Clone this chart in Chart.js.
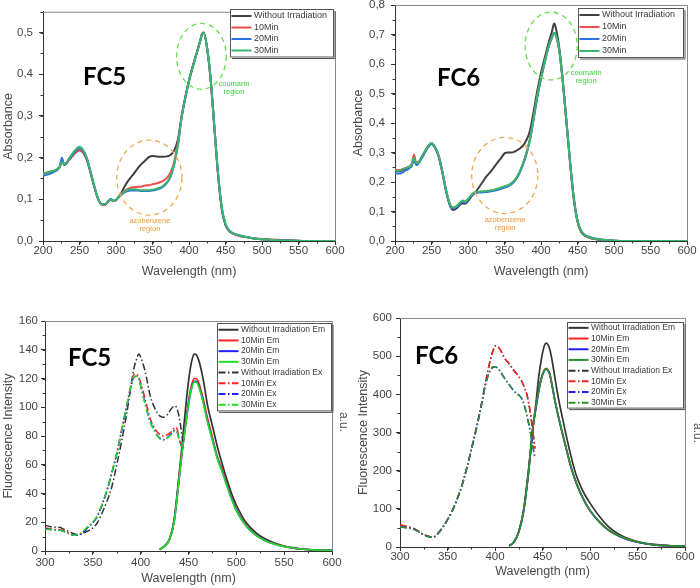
<!DOCTYPE html>
<html>
<head>
<meta charset="utf-8">
<title>FC5 / FC6 absorbance and fluorescence</title>
<script src="https://cdn.jsdelivr.net/npm/chart.js@4.4.1/dist/chart.umd.min.js"></script>
<style>
  html, body { margin: 0; padding: 0; background: #fff; }
  #figure { position: relative; width: 700px; height: 588px; overflow: hidden; }
  #figure canvas { position: absolute; }
</style>
</head>
<body>
<div id="figure">
  <canvas id="absFC5" width="350" height="290" style="left:0;top:0"></canvas>
  <canvas id="absFC6" width="350" height="300" style="left:350px;top:-10px"></canvas>
  <canvas id="flFC5" width="350" height="298" style="left:0;top:290px"></canvas>
  <canvas id="flFC6" width="350" height="298" style="left:350px;top:290px"></canvas>
</div>
<script>
// ---- UV-vis absorbance (top row) ----
const absWavelengths = [200,205,210,215,220,223,226,229,232,236,240,245,250,255,260,265,270,275,280,285,290,293,296,300,305,310,315,320,325,330,335,340,345,350,355,360,365,370,375,380,385,390,395,400,405,410,415,418,420,425,430,435,440,445,450,455,460,470,480,490,500,520,540,560,580,600];
const absLabels = ['Without Irradiation', '10Min', '20Min', '30Min'];

const fc5AbsDark = [0.161,0.163,0.166,0.168,0.172,0.178,0.195,0.183,0.186,0.195,
  0.203,0.213,0.218,0.212,0.195,0.165,0.132,0.103,0.088,0.087,
  0.096,0.099,0.096,0.098,0.108,0.125,0.140,0.152,0.163,0.175,
  0.185,0.193,0.201,0.204,0.203,0.202,0.202,0.203,0.207,0.218,
  0.245,0.300,0.345,0.385,0.418,0.448,0.478,0.497,0.500,0.460,
  0.380,0.265,0.155,0.075,0.038,0.024,0.018,0.012,0.009,0.006,
  0.004,0.002,0.001,0,0,0];
const fc5Abs10 = [0.162,0.164,0.166,0.168,0.172,0.178,0.192,0.183,0.186,0.196,
  0.204,0.214,0.219,0.213,0.196,0.165,0.132,0.103,0.088,0.087,
  0.096,0.099,0.096,0.098,0.110,0.118,0.124,0.128,0.129,0.130,
  0.131,0.133,0.134,0.136,0.138,0.141,0.145,0.152,0.165,0.192,
  0.238,0.300,0.345,0.385,0.418,0.448,0.478,0.497,0.500,0.460,
  0.380,0.266,0.156,0.076,0.039,0.024,0.018,0.012,0.009,0.006,
  0.005,0.003,0.001,0,0,0];
const fc5Abs20 = [0.157,0.159,0.162,0.166,0.171,0.180,0.200,0.182,0.187,0.197,
  0.206,0.217,0.223,0.216,0.197,0.166,0.132,0.103,0.089,0.088,
  0.097,0.101,0.097,0.099,0.108,0.115,0.119,0.121,0.121,0.121,
  0.120,0.120,0.120,0.121,0.123,0.126,0.131,0.140,0.155,0.185,
  0.232,0.297,0.344,0.384,0.417,0.447,0.478,0.497,0.499,0.461,
  0.382,0.268,0.158,0.078,0.040,0.025,0.019,0.013,0.009,0.006,
  0.004,0.002,0.001,0,0,0];
const fc5Abs30 = [0.160,0.163,0.166,0.169,0.173,0.179,0.190,0.184,0.188,0.199,
  0.209,0.220,0.226,0.219,0.200,0.168,0.134,0.104,0.089,0.088,
  0.097,0.100,0.097,0.099,0.109,0.117,0.122,0.124,0.124,0.123,
  0.122,0.122,0.122,0.123,0.125,0.128,0.133,0.142,0.157,0.187,
  0.233,0.298,0.344,0.384,0.417,0.447,0.478,0.497,0.499,0.462,
  0.383,0.270,0.160,0.080,0.041,0.026,0.019,0.013,0.009,0.006,
  0.004,0.002,0.001,0,0,0];

const fc6AbsDark = [0.238,0.236,0.240,0.245,0.250,0.258,0.280,0.262,0.265,0.280,
  0.297,0.318,0.329,0.315,0.285,0.230,0.168,0.122,0.105,0.112,
  0.125,0.128,0.126,0.135,0.152,0.165,0.182,0.200,0.218,0.232,
  0.248,0.265,0.280,0.297,0.300,0.300,0.305,0.312,0.322,0.342,
  0.375,0.440,0.510,0.570,0.620,0.668,0.710,0.737,0.725,0.655,
  0.540,0.400,0.260,0.140,0.065,0.030,0.018,0.008,0.004,0.002,
  0.001,0,0,0,0,0];
const fc6Abs10 = [0.242,0.240,0.243,0.248,0.253,0.262,0.292,0.266,0.268,0.283,
  0.300,0.320,0.331,0.318,0.288,0.235,0.172,0.126,0.112,0.118,
  0.131,0.135,0.132,0.142,0.156,0.165,0.166,0.167,0.168,0.170,
  0.172,0.176,0.180,0.184,0.188,0.196,0.209,0.230,0.260,0.297,
  0.347,0.417,0.492,0.552,0.606,0.655,0.690,0.706,0.700,0.645,
  0.535,0.398,0.262,0.142,0.067,0.032,0.019,0.009,0.005,0.003,
  0.001,0,0,0,0,0];
const fc6Abs20 = [0.230,0.228,0.232,0.240,0.247,0.255,0.275,0.258,0.262,0.278,
  0.296,0.318,0.330,0.316,0.286,0.232,0.170,0.124,0.110,0.116,
  0.129,0.133,0.130,0.140,0.154,0.163,0.164,0.165,0.166,0.168,
  0.170,0.173,0.177,0.181,0.185,0.193,0.206,0.227,0.257,0.294,
  0.344,0.414,0.489,0.550,0.604,0.654,0.690,0.705,0.700,0.647,
  0.538,0.402,0.266,0.146,0.070,0.035,0.021,0.011,0.006,0.003,
  0.001,0,0,0,0,0];
const fc6Abs30 = [0.240,0.238,0.242,0.248,0.252,0.260,0.282,0.264,0.267,0.283,
  0.300,0.321,0.332,0.318,0.288,0.234,0.172,0.127,0.114,0.120,
  0.133,0.137,0.134,0.143,0.157,0.166,0.167,0.168,0.169,0.171,
  0.173,0.177,0.181,0.185,0.189,0.197,0.210,0.231,0.261,0.298,
  0.348,0.418,0.493,0.553,0.606,0.655,0.691,0.706,0.701,0.646,
  0.537,0.400,0.264,0.144,0.068,0.033,0.020,0.010,0.005,0.003,
  0.001,0,0,0,0,0];

// ---- Fluorescence (bottom row) ----
const flLabels = ['Without Irradiation Em', '10Min Em', '20Min Em', '30Min Em',
  'Without Irradiation Ex', '10Min Ex', '20Min Ex', '30Min Ex'];

const fc5ExWavelengths = [300,305,310,315,320,325,330,335,340,345,350,355,360,365,370,375,380,385,390,393,396,398,400,405,410,415,420,424,428,432,436,438,440,442,444];
const fc5ExDark = [18,17,16.5,16.5,15,13.5,12,11.5,12.5,14,16,20,27,35,45,60,76,94,115,127,134,137,135,124,108,99,94,93,95,99,101,99,94,86,76];
const fc5Ex10 = [16,15.5,15,15,14,12.5,11,11,13.5,17,20,25,33,43,55,68,84,100,116,123,123,121,117,105,92,85,81,80,81,83,86,85,79,74,72];
const fc5Ex20 = [15.5,15,14.5,14.5,13.5,12,11,11,13,16.5,19.5,24.5,32.5,42.5,54.5,67.5,83,99,114.5,121,121.5,120,115,102,90,83,78.5,77.5,79,81.5,84,83,78,74,72];
const fc5Ex30 = [15,15,14.5,14.5,13.5,12,11,11.5,14,17,20,25,33,43,55,68,84,100,115,121.5,121.5,120,114.5,101,89.5,82.5,78,77,78.5,81,83.5,83,78,74,72];

const fc5EmWavelengths = [420,425,430,435,440,443,446,450,453,456,458,460,463,466,470,475,480,485,490,495,500,510,520,530,540,550,560,570,580,590,600];
const fc5EmDark = [1,3.5,8,22,52,72,93,118,131,137,136.5,134,127,117,101,87,73,61,50,40,32,20,13,8.5,5.5,3.5,2.2,1.3,0.8,0.5,0.4];
const fc5Em10 = [1,3.5,8,21,50,68,84,104,115,120,120,118,112,104,92,79,66,57,47,37,29,18,11.5,7.5,5,3.2,2,1.2,0.8,0.5,0.4];
const fc5Em20 = [1,3.4,7.8,20.5,49,67,83,102,113,118,118,116,110,102,90,77.5,65,56,46,36.5,28.5,17.7,11.3,7.4,4.9,3.1,2,1.2,0.8,0.5,0.4];
const fc5Em30 = [1,3.4,7.8,20.5,49,67,82.5,101.5,112.5,117.5,117.5,115.5,109.5,101.5,89.5,77,64.5,55.5,45.5,36,28,17.5,11.2,7.3,4.8,3,1.9,1.2,0.8,0.5,0.4];

const fc6ExWavelengths = [300,305,310,315,320,325,330,335,340,345,350,355,360,365,370,375,380,385,390,395,398,400,403,406,410,415,420,425,428,431,434,437,440,442];
const fc6ExDark = [58,55,52,48,40,33,28,26,36,52,72,95,125,160,205,255,308,365,430,490,515,527,525,515,495,480,462,447,435,418,395,355,300,258];
const fc6Ex10 = [58,55,52,48,40,33,28,26,36,52,72,95,125,160,205,255,308,365,430,490,515,527,525,515,495,480,462,447,435,418,395,355,300,258];
const fc6Ex20 = [53,51,49,46,39,32,27,25.5,35,51,71,94,124,159,203,253,305,362,425,462,471,472,468,458,442,425,408,398,390,370,340,305,262,233];
const fc6Ex30 = [52,51,49,46,39,32,27,25.5,35,51,71,94,124,159,203,253,305,362,426,463,472,472,468,459,443,426,409,398,389,369,339,303,260,235];

const fc6EmWavelengths = [415,420,425,430,435,440,443,446,449,452,454,456,458,460,463,466,470,475,480,485,490,495,500,510,520,530,540,550,560,570,580,590,600];
const fc6EmDark = [3,14,40,95,195,315,375,445,495,528,534,529,515,490,445,400,350,292,238,192,160,135,115,80,52,34,22,14,9,6,4,3,2];
const fc6Em10 = [3,13,40,93,190,315,365,410,445,464,468,462,450,425,385,350,308,258,210,172,142,117,96,66,44,30,20,13,8,5,3.5,2.5,2];
const fc6Em20 = [3,13,39,92,188,313,363,408,443,462,466,461,449,424,384,349,307,257,209,171,141,116,95,65,43,29,19,12.5,8,5,3.5,2.5,2];
const fc6Em30 = [3,13,39,92,189,314,364,409,444,463,467,462,450,425,385,350,308,258,210,172,142,117,96,66,44,30,20,13,8,5,3.5,2.5,2];

// tick labels
const absXTicks = [200, 250, 300, 350, 400, 450, 500, 550, 600];
const fc5AbsYTicks = [0, 0.1, 0.2, 0.3, 0.4, 0.5];
const fc6AbsYTicks = [0, 0.1, 0.2, 0.3, 0.4, 0.5, 0.6, 0.7, 0.8];
const flXTicks = [300, 350, 400, 450, 500, 550, 600];
const fc5FlYTicks = [0, 20, 40, 60, 80, 100, 120, 140, 160];
const fc6FlYTicks = [0, 100, 200, 300, 400, 500, 600];

const FONT = '"Liberation Sans", Arial, sans-serif';
const absColors = ['#404040', '#f24c4c', '#2f70e2', '#3bb56c'];
const fc5FlColors = ['#333333', '#ff2020', '#2020ff', '#22dd22'];
const fc6FlColors = ['#333333', '#ff2020', '#2020ff', '#2a962a'];
const exDash = [7, 2.5, 1.5, 2.5];

function pts(xs, ys) {
  return xs.map((x, i) => ({ x: x, y: ys[i] }));
}

function lineSet(label, xs, ys, color, width, dash, order) {
  return {
    label: label,
    data: pts(xs, ys),
    borderColor: color,
    borderWidth: width,
    borderDash: dash || [],
    pointRadius: 0,
    fill: false,
    order: order
  };
}

// draws the Origin-like legend box at a fixed spot inside the plot
const boxLegend = {
  id: 'boxLegend',
  afterDraw(chart, args, o) {
    const ctx = chart.ctx;
    const sets = chart.data.datasets;
    const h = o.pad * 2 + sets.length * o.rowH;
    ctx.save();
    ctx.fillStyle = '#fff';
    ctx.fillRect(o.x, o.y, o.w, h);
    ctx.strokeStyle = '#555';
    ctx.lineWidth = 1;
    ctx.strokeRect(o.x + 0.5, o.y + 0.5, o.w, h);
    ctx.beginPath();
    ctx.moveTo(o.x + o.w + 2, o.y + 2);
    ctx.lineTo(o.x + o.w + 2, o.y + h + 2);
    ctx.lineTo(o.x + 2, o.y + h + 2);
    ctx.stroke();
    ctx.font = o.fontSize + 'px ' + FONT;
    ctx.textBaseline = 'middle';
    sets.forEach((ds, i) => {
      const cy = o.y + o.pad + o.rowH * (i + 0.5) + 0.5;
      ctx.strokeStyle = ds.borderColor;
      ctx.lineWidth = 2;
      ctx.setLineDash(ds.borderDash);
      ctx.beginPath();
      ctx.moveTo(o.x + 1.5, cy);
      ctx.lineTo(o.x + 1.5 + o.lineLen, cy);
      ctx.stroke();
      ctx.setLineDash([]);
      ctx.fillStyle = '#3a3a3a';
      ctx.fillText(ds.label, o.x + o.lineLen + 4, cy);
    });
    ctx.restore();
  }
};

// top/right frame lines and minor ticks
const framePlugin = {
  id: 'frame',
  afterDatasetsDraw(chart, args, o) {
    const { ctx, chartArea: a, scales: { x, y } } = chart;
    ctx.save();
    ctx.strokeStyle = '#8a8a8a';
    ctx.lineWidth = 1;
    ctx.beginPath();
    ctx.moveTo(a.left, a.top + 0.5);
    ctx.lineTo(a.right + 0.5, a.top + 0.5);
    ctx.lineTo(a.right + 0.5, a.bottom);
    ctx.stroke();
    ctx.strokeStyle = '#333';
    ctx.beginPath();
    for (let v = x.min; v <= x.max + 1e-9; v += o.minorX) {
      const px = Math.round(x.getPixelForValue(v)) + 0.5;
      ctx.moveTo(px, a.bottom);
      ctx.lineTo(px, a.bottom + 2.5);
    }
    for (let v = y.min; v <= y.max + 1e-9; v += o.minorY) {
      const py = Math.round(y.getPixelForValue(v)) + 0.5;
      ctx.moveTo(a.left, py);
      ctx.lineTo(a.left - 2.5, py);
    }
    ctx.stroke();
    ctx.restore();
  }
};

// dashed region circles and free texts
const notesPlugin = {
  id: 'notes',
  afterDraw(chart, args, o) {
    const { ctx, scales: { x, y } } = chart;
    ctx.save();
    (o.ellipses || []).forEach(e => {
      const cx = x.getPixelForValue(e.x);
      const cy = y.getPixelForValue(e.y);
      const rx = Math.abs(x.getPixelForValue(e.x + e.rx) - cx);
      const ry = Math.abs(y.getPixelForValue(e.y + e.ry) - cy);
      ctx.strokeStyle = e.color;
      ctx.lineWidth = 1.3;
      ctx.setLineDash([5, 4]);
      ctx.beginPath();
      ctx.ellipse(cx, cy, rx, ry, 0, 0, Math.PI * 2);
      ctx.stroke();
    });
    ctx.setLineDash([]);
    (o.texts || []).forEach(t => {
      let px = t.px, py = t.py;
      if (t.data) {
        px = x.getPixelForValue(t.x);
        py = y.getPixelForValue(t.y);
      }
      ctx.save();
      ctx.font = t.font;
      ctx.fillStyle = t.color;
      ctx.textAlign = t.align || 'left';
      ctx.textBaseline = t.baseline || 'alphabetic';
      ctx.translate(px, py);
      if (t.rotate) ctx.rotate(t.rotate);
      ctx.fillText(t.text, 0, 0);
      ctx.restore();
    });
    ctx.restore();
  }
};

function axis(dir, a) {
  return {
    type: 'linear',
    min: a.min,
    max: a.max,
    afterBuildTicks: s => { s.ticks = a.ticks.map(v => ({ value: v })); },
    afterFit: s => { if (dir === 'x') s.height = a.size; else s.width = a.size; },
    grid: { drawOnChartArea: false, drawTicks: true, tickLength: 4, tickColor: '#333', tickWidth: 1 },
    border: { display: true, color: '#333', width: 1 },
    ticks: {
      padding: a.pad,
      color: '#444',
      autoSkip: false,
      maxRotation: 0,
      font: { family: FONT, size: 11.5, lineHeight: 1 },
      callback: a.fmt
    },
    title: {
      display: true,
      text: a.title,
      color: '#4a4a4a',
      font: { family: FONT, size: 12.5 },
      padding: a.titlePad
    }
  };
}

function makePanel(id, cfg) {
  return new Chart(document.getElementById(id), {
    type: 'line',
    data: { datasets: cfg.datasets },
    options: {
      responsive: false,
      animation: false,
      layout: { padding: cfg.padding },
      elements: { line: { cubicInterpolationMode: 'monotone' } },
      scales: { x: axis('x', cfg.x), y: axis('y', cfg.y) },
      plugins: {
        legend: { display: false },
        tooltip: { enabled: false },
        boxLegend: cfg.legend,
        frame: { minorX: cfg.x.minor, minorY: cfg.y.minor },
        notes: cfg.notes
      }
    },
    plugins: [framePlugin, boxLegend, notesPlugin]
  });
}

const commaFmt = v => v.toFixed(1).replace('.', ',');
const intFmt = v => String(v);
const fcFont = 'bold 24px Lato, "Open Sans", sans-serif';
const noteFont = '7.5px ' + FONT;
const auFont = '12px ' + FONT;

function absSets(series) {
  return series.map((ys, i) => lineSet(absLabels[i], absWavelengths, ys, absColors[i], 2, null, 4 - i));
}

function flSets(em, ex, colors) {
  const sets = em.map((s, i) => lineSet(flLabels[i], s[0], s[1], colors[i], 1.7, null, 8 - i));
  return sets.concat(ex.map((s, i) => lineSet(flLabels[i + 4], s[0], s[1], colors[i], 1.5, exDash, 4 - i)));
}

makePanel('absFC5', {
  datasets: absSets([fc5AbsDark, fc5Abs10, fc5Abs20, fc5Abs30]),
  padding: { left: 0, top: 5, right: 15, bottom: 0 },
  x: { min: 200, max: 600, ticks: absXTicks, minor: 25, size: 49, pad: 0, fmt: intFmt,
       title: 'Wavelength (nm)', titlePad: { top: 0, bottom: 10.5 } },
  y: { min: 0, max: 0.55, ticks: fc5AbsYTicks, minor: 0.05, size: 43, pad: 6, fmt: commaFmt,
       title: 'Absorbance', titlePad: { top: 1, bottom: 0 } },
  legend: { x: 230, y: 9, w: 103, rowH: 11.5, pad: 0.75, fontSize: 9, lineLen: 20 },
  notes: {
    ellipses: [
      { x: 417, y: 0.443, rx: 34, ry: 0.079, color: '#66dd4c' },
      { x: 345.7, y: 0.152, rx: 44.6, ry: 0.09, color: '#f5a852' }
    ],
    texts: [
      { text: 'FC5', px: 83, py: 85, font: fcFont, color: '#000' },
      { text: 'coumarin', data: true, x: 461.5, y: 0.373, align: 'center', font: noteFont, color: '#3ccf3c' },
      { text: 'region', data: true, x: 461.5, y: 0.353, align: 'center', font: noteFont, color: '#3ccf3c' },
      { text: 'azobenzene', data: true, x: 346.4, y: 0.044, align: 'center', font: noteFont, color: '#f29a3a' },
      { text: 'region', data: true, x: 346.4, y: 0.023, align: 'center', font: noteFont, color: '#f29a3a' }
    ]
  }
});

makePanel('absFC6', {
  datasets: absSets([fc6AbsDark, fc6Abs10, fc6Abs20, fc6Abs30]),
  padding: { left: 0, top: 15, right: 13, bottom: 0 },
  x: { min: 200, max: 600, ticks: absXTicks, minor: 25, size: 49, pad: 0, fmt: intFmt,
       title: 'Wavelength (nm)', titlePad: { top: 0, bottom: 10.8 } },
  y: { min: 0, max: 0.8, ticks: fc6AbsYTicks, minor: 0.05, size: 45, pad: 6, fmt: commaFmt,
       title: 'Absorbance', titlePad: { top: 1, bottom: 0 } },
  legend: { x: 228, y: 18, w: 105, rowH: 12, pad: 0.5, fontSize: 9, lineLen: 20 },
  notes: {
    ellipses: [
      { x: 413.9, y: 0.661, rx: 35.7, ry: 0.115, color: '#66dd4c' },
      { x: 350.4, y: 0.222, rx: 45.3, ry: 0.129, color: '#f5a852' }
    ],
    texts: [
      { text: 'FC6', px: 87, py: 96, font: fcFont, color: '#000' },
      { text: 'coumarin', data: true, x: 461.9, y: 0.564, align: 'center', font: noteFont, color: '#3ccf3c' },
      { text: 'region', data: true, x: 461.9, y: 0.534, align: 'center', font: noteFont, color: '#3ccf3c' },
      { text: 'azobenzene', data: true, x: 350.8, y: 0.063, align: 'center', font: noteFont, color: '#f29a3a' },
      { text: 'region', data: true, x: 350.8, y: 0.036, align: 'center', font: noteFont, color: '#f29a3a' }
    ]
  }
});

makePanel('flFC5', {
  datasets: flSets(
    [[fc5EmWavelengths, fc5EmDark], [fc5EmWavelengths, fc5Em10], [fc5EmWavelengths, fc5Em20], [fc5EmWavelengths, fc5Em30]],
    [[fc5ExWavelengths, fc5ExDark], [fc5ExWavelengths, fc5Ex10], [fc5ExWavelengths, fc5Ex20], [fc5ExWavelengths, fc5Ex30]],
    fc5FlColors),
  padding: { left: 0, top: 31, right: 18, bottom: 0 },
  x: { min: 300, max: 600, ticks: flXTicks, minor: 25, size: 37, pad: 2.5, fmt: intFmt,
       title: 'Wavelength (nm)', titlePad: { top: 0, bottom: 2.2 } },
  y: { min: 0, max: 160, ticks: fc5FlYTicks, minor: 10, size: 45, pad: 3, fmt: intFmt,
       title: 'Fluorescence Intensity', titlePad: { top: 1.5, bottom: 0 } },
  legend: { x: 217, y: 33, w: 114, rowH: 10.7, pad: 0.9, fontSize: 8.5, lineLen: 20 },
  notes: {
    texts: [
      { text: 'FC5', px: 68, py: 76, font: fcFont, color: '#000' },
      { text: 'a.u.', px: 343, py: 132, align: 'center', baseline: 'middle', rotate: Math.PI / 2, font: auFont, color: '#555' }
    ]
  }
});

makePanel('flFC6', {
  datasets: flSets(
    [[fc6EmWavelengths, fc6EmDark], [fc6EmWavelengths, fc6Em10], [fc6EmWavelengths, fc6Em20], [fc6EmWavelengths, fc6Em30]],
    [[fc6ExWavelengths, fc6ExDark], [fc6ExWavelengths, fc6Ex10], [fc6ExWavelengths, fc6Ex20], [fc6ExWavelengths, fc6Ex30]],
    fc6FlColors),
  padding: { left: 0, top: 28, right: 15, bottom: 0 },
  x: { min: 300, max: 600, ticks: flXTicks, minor: 25, size: 41, pad: 0, fmt: intFmt,
       title: 'Wavelength (nm)', titlePad: { top: 0, bottom: 8.8 } },
  y: { min: 0, max: 600, ticks: fc6FlYTicks, minor: 50, size: 50, pad: 4, fmt: intFmt,
       title: 'Fluorescence Intensity', titlePad: { top: 5.8, bottom: 0 } },
  legend: { x: 217, y: 32, w: 116, rowH: 10.7, pad: 0, fontSize: 8.5, lineLen: 20 },
  notes: {
    texts: [
      { text: 'FC6', px: 65, py: 74, font: fcFont, color: '#000' },
      { text: 'a.u.', px: 347, py: 143, align: 'center', baseline: 'middle', rotate: Math.PI / 2, font: auFont, color: '#555' }
    ]
  }
});
</script>
</body>
</html>
